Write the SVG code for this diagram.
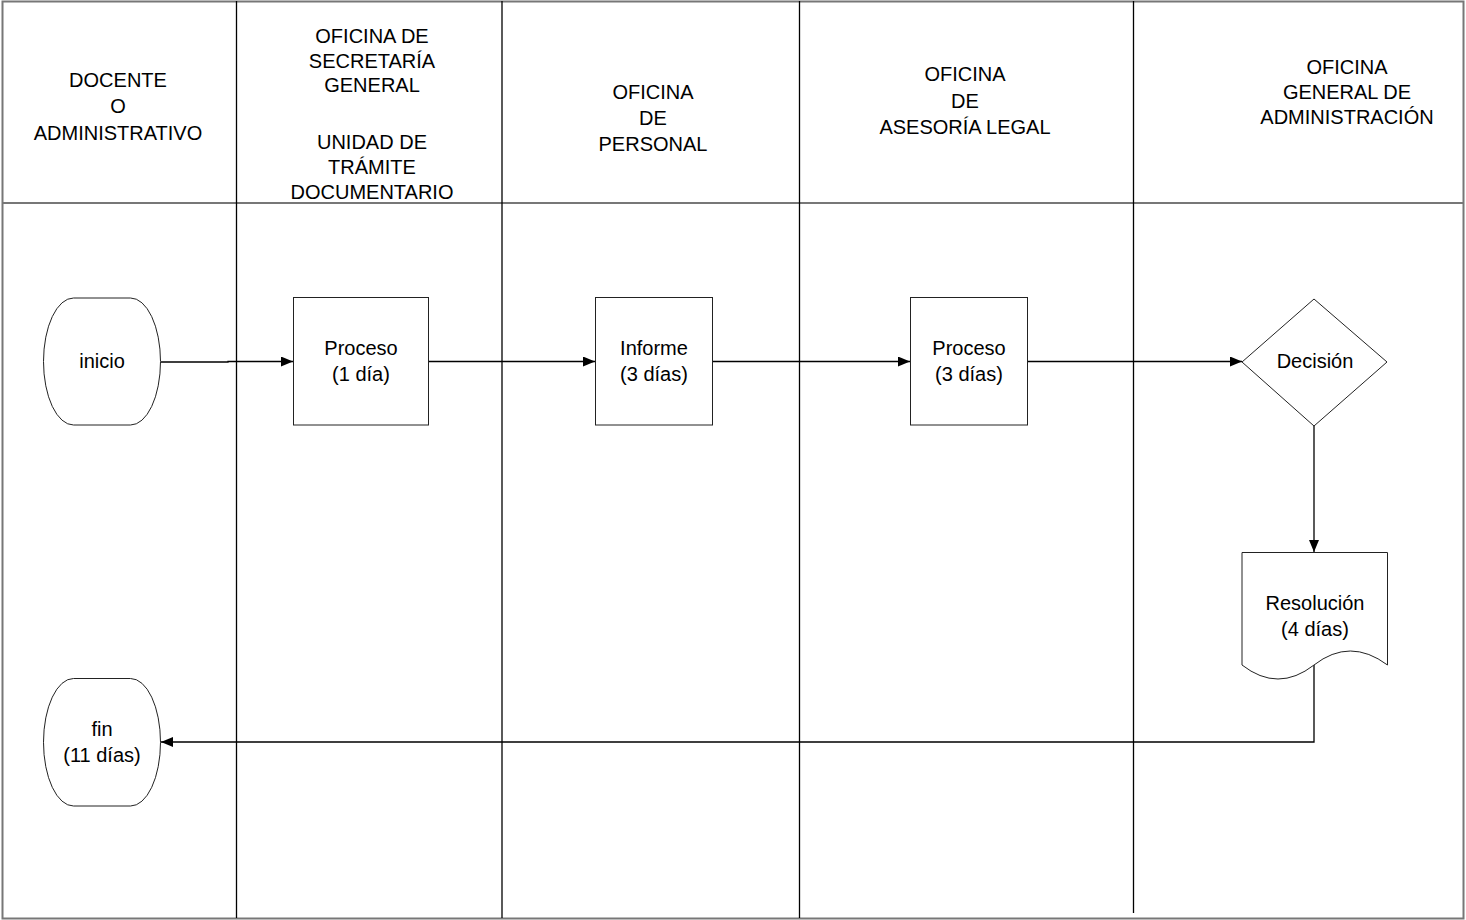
<svg xmlns="http://www.w3.org/2000/svg" width="1466" height="920" viewBox="0 0 1466 920">
<style>
text{font-family:"Liberation Sans",Arial,sans-serif;font-size:20px;fill:#000;text-anchor:middle}
.hd{font-size:20px}
.nd{font-size:20px}
.shape{fill:#fff;stroke:#222;stroke-width:1}
.lane{stroke:#000;stroke-width:1.3;fill:none}
.frame{stroke:#777;stroke-width:2;fill:none}
.conn{stroke:#000;stroke-width:1.3;fill:none}
</style>
<defs>
<marker id="arr" viewBox="0 0 12 10" refX="12" refY="5" markerWidth="12" markerHeight="10" markerUnits="userSpaceOnUse" orient="auto">
<path d="M0,0 L12,5 L0,10 z" fill="#000"/>
</marker>
</defs>
<rect width="1466" height="920" fill="#fff"/>
<g id="frame">
<rect class="frame" x="2.5" y="1.5" width="1461" height="917"/>
<line class="frame" x1="2.5" y1="203" x2="1463.5" y2="203"/>
<line class="lane" x1="236.5" y1="1" x2="236.5" y2="918"/>
<line class="lane" x1="502" y1="1" x2="502" y2="918"/>
<line class="lane" x1="799.5" y1="1" x2="799.5" y2="918"/>
<line class="lane" x1="1133.5" y1="1" x2="1133.5" y2="913"/>
</g>
<g id="headers">
<g id="h1"><text x="118" y="87">DOCENTE</text><text x="118" y="113">O</text><text x="118" y="140">ADMINISTRATIVO</text></g>
<g id="h2"><text x="372" y="43">OFICINA DE</text><text x="372" y="68">SECRETARÍA</text><text x="372" y="92">GENERAL</text><text x="372" y="149">UNIDAD DE</text><text x="372" y="174">TRÁMITE</text><text x="372" y="199">DOCUMENTARIO</text></g>
<g id="h3"><text x="653" y="99">OFICINA</text><text x="653" y="125">DE</text><text x="653" y="151">PERSONAL</text></g>
<g id="h4"><text x="965" y="81">OFICINA</text><text x="965" y="108">DE</text><text x="965" y="134">ASESORÍA LEGAL</text></g>
<g id="h5"><text x="1347" y="74">OFICINA</text><text x="1347" y="99">GENERAL DE</text><text x="1347" y="124">ADMINISTRACIÓN</text></g>
</g>
<g id="connectors">
<path class="conn" d="M161,362 H228 V361.5 H293" marker-end="url(#arr)"/>
<line class="conn" x1="428" y1="361.5" x2="595" y2="361.5" marker-end="url(#arr)"/>
<line class="conn" x1="712" y1="361.5" x2="910" y2="361.5" marker-end="url(#arr)"/>
<line class="conn" x1="1027" y1="361.5" x2="1242" y2="361.5" marker-end="url(#arr)"/>
<line class="conn" x1="1314" y1="426" x2="1314" y2="552" marker-end="url(#arr)"/>
<path class="conn" d="M1314,665 V742 H161" marker-end="url(#arr)"/>
</g>
<g id="inicio">
<rect class="shape" x="43.5" y="298" width="117" height="127" rx="30" ry="63.5"/>
<text x="102" y="368">inicio</text>
</g>
<g id="proceso1">
<rect class="shape" x="293.5" y="297.5" width="135" height="127.5"/>
<text x="361" y="355">Proceso</text><text x="361" y="381">(1 día)</text>
</g>
<g id="informe">
<rect class="shape" x="595.5" y="297.5" width="117" height="127.5"/>
<text x="654" y="355">Informe</text><text x="654" y="381">(3 días)</text>
</g>
<g id="proceso2">
<rect class="shape" x="910.5" y="297.5" width="117" height="127.5"/>
<text x="969" y="355">Proceso</text><text x="969" y="381">(3 días)</text>
</g>
<g id="decision">
<path class="shape" d="M1314,299 L1387,362 L1314,426 L1242,362 Z"/>
<text x="1315" y="368">Decisión</text>
</g>
<g id="resolucion">
<path class="shape" d="M1242,552.5 H1387.5 V665 Q1350,637 1314,665 Q1278,693 1242,665 Z"/>
<text x="1315" y="610">Resolución</text><text x="1315" y="636">(4 días)</text>
</g>
<g id="fin">
<rect class="shape" x="43.5" y="678.5" width="117" height="127.5" rx="30" ry="63.75"/>
<text x="102" y="736">fin</text><text x="102" y="762">(11 días)</text>
</g>
</svg>
